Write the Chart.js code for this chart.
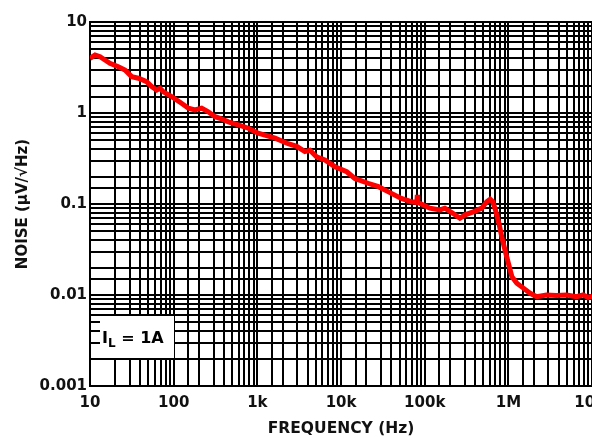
<!DOCTYPE html>
<html>
<head>
<meta charset="utf-8">
<script src="https://cdn.jsdelivr.net/npm/chart.js@4.4.0/dist/chart.umd.min.js"></script>
<style>
  html, body { margin: 0; padding: 0; background: #fff; overflow: hidden; }
  #wrap { width: 618px; height: 438px; position: relative; }
</style>
</head>
<body>
<div id="wrap"><canvas id="myChart"></canvas></div>
<script>
// frequency (Hz) and noise (uV/rtHz)
const freqs = [10, 11.5, 13.2, 15.1, 17.3, 21.8, 26.2, 31.5, 37.8, 47.5, 54.6, 62.6, 68.6, 75.2, 94.6,
  124, 150, 179, 216, 259, 312, 358, 450, 590, 780, 1020, 1230, 1630, 2330, 2950, 3700, 4250, 5100,
  6400, 8450, 11700, 14600, 21000, 28000, 36900, 52500, 69000, 80500, 81500, 82500, 91000, 115000,
  152000, 174000, 217000, 263000, 303000, 380000, 480000, 550000, 605000, 650000, 700000, 770000,
  840000, 920000, 1000000, 1100000, 1260000, 1510000, 1800000, 2170000, 2850000, 3750000, 4950000,
  6500000, 7800000, 9000000, 10000000];
const noise = [3.99, 4.33, 4.16, 3.82, 3.52, 3.23, 2.97, 2.51, 2.41, 2.21, 1.95, 1.79, 1.87, 1.71, 1.51,
  1.28, 1.13, 1.08, 1.13, 1.03, 0.91, 0.875, 0.80, 0.74, 0.68, 0.60, 0.57, 0.53, 0.46, 0.43, 0.376, 0.39, 0.33,
  0.305, 0.257, 0.226, 0.191, 0.169, 0.155, 0.136, 0.115, 0.106, 0.104, 0.126, 0.104, 0.100, 0.090,
  0.086, 0.090, 0.079, 0.0697, 0.076, 0.082, 0.090, 0.106, 0.113, 0.106, 0.086, 0.0614,
  0.042, 0.030, 0.0223, 0.0159, 0.0135, 0.0119, 0.0105, 0.0096, 0.0100, 0.0099, 0.0100,
  0.0096, 0.0100, 0.0094, 0.0097];

const xLabels = {1: '10', 2: '100', 3: '1k', 4: '10k', 5: '100k', 6: '1M', 7: '10M'};
const yLabels = {1: '10', 0: '1', '-1': '0.1', '-2': '0.01', '-3': '0.001'};

const points = freqs.map((f, i) => ({x: f, y: noise[i]}));

const decadeLabel = (value, table) => {
    const l = Math.log10(value);
    const r = Math.round(l);
    if (Math.abs(l - r) < 1e-6 && table[r] !== undefined) return table[r];
    return '';
};

const tickFont = {family: 'DejaVu Sans', size: 15, weight: 'bold'};

// white label box, sits over the grid lines
const labelBox = {
    id: 'labelBox',
    afterDraw(chart) {
        const {ctx, chartArea} = chart;
        const x = chartArea.left + 10;
        const y = chartArea.bottom - 70;
        ctx.save();
        ctx.fillStyle = '#fff';
        ctx.fillRect(x, y, 74, 42);
        ctx.fillStyle = '#000';
        ctx.textBaseline = 'alphabetic';
        ctx.font = 'bold 16px "DejaVu Sans"';
        ctx.fillText('I', x + 2, y + 27);
        let w = ctx.measureText('I').width;
        ctx.font = 'bold 12px "DejaVu Sans"';
        ctx.fillText('L', x + 2 + w, y + 31);
        w += ctx.measureText('L').width;
        ctx.font = 'bold 16px "DejaVu Sans"';
        ctx.fillText(' = 1A', x + 2 + w, y + 27);
        ctx.restore();
    }
};

const ctx = document.getElementById('myChart');
const myChart = new Chart(ctx, {
    type: 'line',
    data: {
        datasets: [{
            data: points,
            borderColor: '#ff0000',
            borderWidth: 5,
            pointRadius: 0,
            tension: 0,
            fill: false
        }]
    },
    options: {
        responsive: true,
        maintainAspectRatio: false,
        animation: false,
        layout: {padding: {top: 22, right: 0, left: 0, bottom: 0}},
        plugins: {legend: {display: false}, tooltip: {enabled: false}},
        scales: {
            x: {
                type: 'logarithmic',
                min: 10,
                max: 10000000,
                grid: {color: '#000', lineWidth: 2, drawTicks: false},
                border: {color: '#000', width: 2},
                ticks: {
                    autoSkip: false,
                    maxRotation: 0,
                    padding: 8,
                    color: '#111',
                    font: tickFont,
                    callback: v => decadeLabel(v, xLabels)
                },
                title: {
                    display: true,
                    text: 'FREQUENCY (Hz)',
                    color: '#111',
                    font: {family: 'DejaVu Sans', size: 15.5, weight: 'bold'},
                    padding: {top: 0, bottom: 0}
                },
                afterFit: scale => { scale.height = 52; }
            },
            y: {
                type: 'logarithmic',
                min: 0.001,
                max: 10,
                grid: {color: '#000', lineWidth: 2, drawTicks: false},
                border: {color: '#000', width: 2},
                ticks: {
                    autoSkip: false,
                    padding: 3,
                    color: '#111',
                    font: tickFont,
                    callback: v => decadeLabel(v, yLabels)
                },
                title: {
                    display: true,
                    text: 'NOISE (µV/√Hz)',
                    color: '#111',
                    font: {family: 'DejaVu Sans', size: 15, weight: 'bold'},
                    padding: {top: 14, bottom: 0}
                },
                afterFit: scale => { scale.width = 90; }
            }
        }
    },
    plugins: [labelBox]
});
</script>
</body>
</html>
